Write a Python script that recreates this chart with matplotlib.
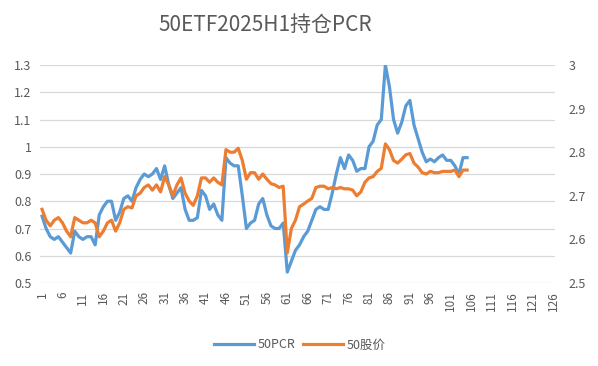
import numpy as np
import matplotlib.pyplot as plt

plt.rcParams['font.family'] = ['Noto Sans CJK SC', 'DejaVu Sans']

# 50ETF put/call ratio (left axis)
pcr = [0.745, 0.70, 0.67, 0.66, 0.67, 0.65, 0.63, 0.61, 0.69, 0.67,
       0.66, 0.67, 0.67, 0.64, 0.75, 0.78, 0.80, 0.80, 0.73, 0.76,
       0.81, 0.82, 0.80, 0.85, 0.88, 0.90, 0.89, 0.90, 0.92, 0.88,
       0.93, 0.86, 0.81, 0.83, 0.85, 0.77, 0.73, 0.73, 0.74, 0.84,
       0.82, 0.77, 0.79, 0.75, 0.73, 0.96, 0.94, 0.93, 0.93, 0.82,
       0.70, 0.72, 0.73, 0.79, 0.81, 0.75, 0.71, 0.70, 0.70, 0.72,
       0.54, 0.58, 0.62, 0.64, 0.67, 0.69, 0.73, 0.77, 0.78, 0.77,
       0.77, 0.83, 0.90, 0.96, 0.92, 0.97, 0.95, 0.91, 0.92, 0.92,
       1.00, 1.02, 1.08, 1.10, 1.30, 1.22, 1.10, 1.05, 1.09, 1.15,
       1.17, 1.08, 1.03, 0.98, 0.945, 0.955, 0.945, 0.96, 0.97, 0.95,
       0.95, 0.93, 0.90, 0.96, 0.96]

# 50ETF price (right axis)
price = [2.669, 2.644, 2.631, 2.644, 2.650, 2.638, 2.619, 2.606, 2.650, 2.644,
         2.638, 2.638, 2.644, 2.638, 2.606, 2.619, 2.638, 2.644, 2.619, 2.638,
         2.669, 2.675, 2.672, 2.700, 2.706, 2.719, 2.725, 2.713, 2.725, 2.709,
         2.744, 2.725, 2.700, 2.725, 2.741, 2.706, 2.688, 2.678, 2.700, 2.741,
         2.741, 2.731, 2.741, 2.731, 2.725, 2.806, 2.800, 2.800, 2.809, 2.781,
         2.738, 2.753, 2.753, 2.738, 2.750, 2.738, 2.728, 2.725, 2.719, 2.722,
         2.569, 2.625, 2.644, 2.675, 2.681, 2.688, 2.694, 2.719, 2.722, 2.722,
         2.716, 2.719, 2.716, 2.719, 2.716, 2.716, 2.713, 2.700, 2.709, 2.731,
         2.741, 2.744, 2.756, 2.763, 2.819, 2.806, 2.781, 2.775, 2.784, 2.794,
         2.797, 2.775, 2.766, 2.753, 2.750, 2.756, 2.753, 2.753, 2.756, 2.756,
         2.756, 2.759, 2.744, 2.759, 2.759]

n_categories = 126
xticks = list(range(1, n_categories + 1, 5))

grey = '#595959'
blue = '#5B9BD5'
orange = '#ED7D31'

fig = plt.figure(figsize=(5.98, 3.66), dpi=100)
ax = fig.add_axes([40 / 598, 83 / 366, 515 / 598, 218 / 366])
ax2 = ax.twinx()

x = np.arange(1, len(pcr) + 1)
l1, = ax.plot(x, pcr, color=blue, lw=2.3, solid_joinstyle='round')
l2, = ax2.plot(np.arange(1, len(price) + 1), price, color=orange, lw=2.3, solid_joinstyle='round')

ax.set_xlim(0.5, n_categories + 0.5)
ax.set_ylim(0.5, 1.3)
ax.set_yticks(np.arange(0.5, 1.31, 0.1))
ax.set_yticklabels(['0.5', '0.6', '0.7', '0.8', '0.9', '1', '1.1', '1.2', '1.3'])
ax2.set_ylim(2.5, 3.0)
ax2.set_yticks(np.arange(2.5, 3.01, 0.1))
ax2.set_yticklabels(['2.5', '2.6', '2.7', '2.8', '2.9', '3'])

ax.set_xticks(xticks)
ax.set_xticklabels([str(t) for t in xticks], rotation=90)

ax.grid(axis='y', color='#D9D9D9', lw=0.9)
ax.set_axisbelow(True)
for a in (ax, ax2):
    for s in a.spines.values():
        s.set_visible(False)
    a.tick_params(length=0, colors=grey, labelsize=9)
ax.tick_params(axis='x', labelsize=8.5, pad=6)
ax.tick_params(axis='y', pad=6)
ax2.tick_params(axis='y', pad=10)

fig.text(265 / 598, 1 - 25 / 366, '50ETF2025H1持仓PCR', ha='center', va='center',
         fontsize=15, color=grey)

fig.legend([l1, l2], ['50PCR', '50股价'], loc='center', bbox_to_anchor=(300 / 598, 1 - 345 / 366),
           ncol=2, frameon=False, fontsize=9, labelcolor=grey, handlelength=3.2,
           columnspacing=0.6, handletextpad=0.3)

fig.savefig('out.png', dpi=100)
